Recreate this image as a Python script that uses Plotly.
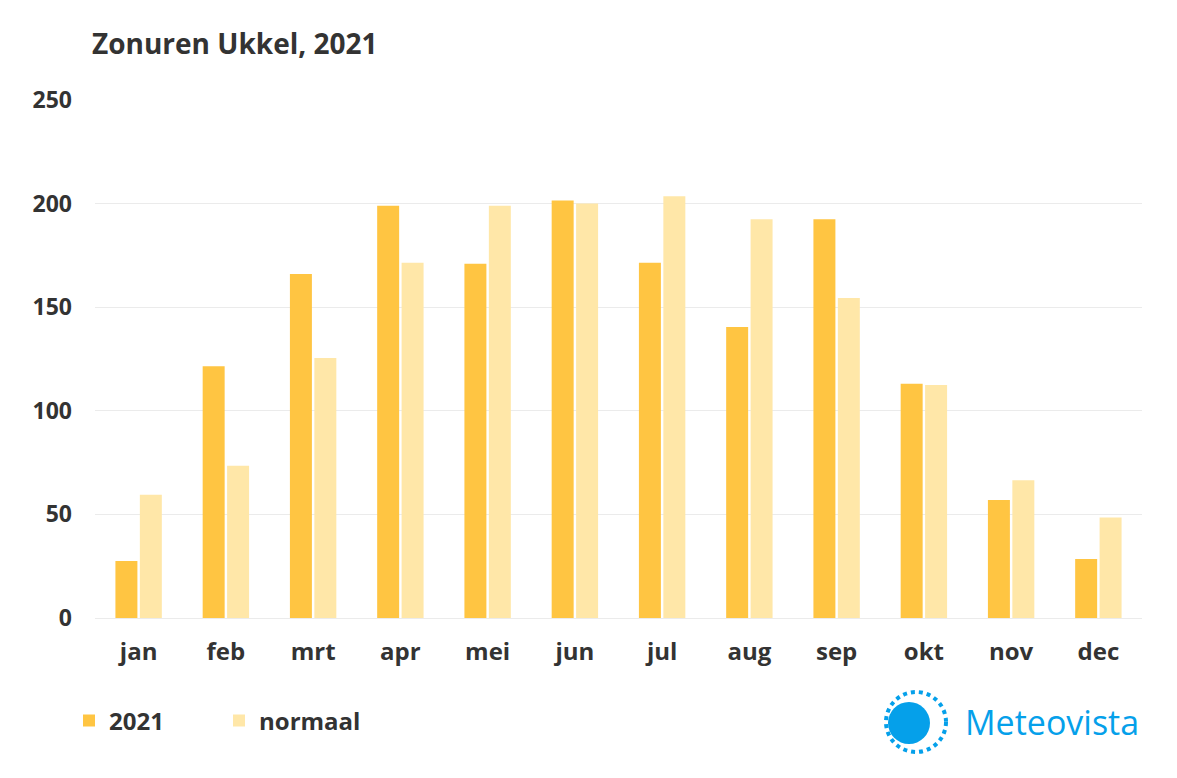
import plotly.graph_objects as go

months = ["jan", "feb", "mrt", "apr", "mei", "jun", "jul", "aug", "sep", "okt", "nov", "dec"]
zon_2021 = [27.5, 121.5, 166, 199, 171, 201.5, 171.5, 140.5, 192.5, 113, 57, 28.5]
normaal = [59.5, 73.5, 125.5, 171.5, 199, 200, 203.5, 192.5, 154.5, 112.5, 66.5, 48.5]
y_ticks = [0, 50, 100, 150, 200, 250]

C2021 = "#FFC542"
CNORM = "#FFE7A8"
TXT = "#333333"
BLUE = "#05A0EA"
FONT = "Open Sans"

# page has an 8px body margin; figure sized to fit the 1177x778 window
W, H = 1169, 770
L, T = 87, 92
PW, PH = 1047, 518

def px(xp):  # page x -> paper x
    return (xp - 95) / PW

def py(yp):  # page y -> paper y
    return (618 - yp) / PH

fig = go.Figure()
fig.add_trace(go.Bar(x=months, y=zon_2021, name="2021", marker=dict(color=C2021, line=dict(width=0))))
fig.add_trace(go.Bar(x=months, y=normaal, name="normaal", marker=dict(color=CNORM, line=dict(width=0))))

fig.update_layout(
    width=W, height=H,
    paper_bgcolor="white", plot_bgcolor="white",
    margin=dict(l=L, r=W - L - PW, t=T, b=H - T - PH),
    barmode="group", bargap=0.44, bargroupgap=0.1,
    font=dict(family=FONT, color=TXT, size=24),
    title=dict(text="<b>Zonuren Ukkel, 2021</b>", x=84 / W, xanchor="left",
               y=1 - 36 / H, yanchor="middle", yref="container", xref="container",
               font=dict(family=FONT, size=28, color=TXT)),
    showlegend=True,
    legend=dict(orientation="h", x=-26 / PW, xanchor="left", y=py(721), yanchor="middle",
                font=dict(family=FONT, size=24, color=TXT, weight="bold"),
                entrywidth=105, itemwidth=30, traceorder="normal"),
)
fig.update_yaxes(range=[0, 250], tickvals=y_ticks, showgrid=True, gridcolor="#EBEBEB", gridwidth=1,
                 zeroline=True, zerolinecolor="#EBEBEB", zerolinewidth=1,
                 tickfont=dict(family=FONT, size=23, color=TXT, weight="bold"),
                 ticklabelstandoff=22, showline=False, fixedrange=True)
fig.update_xaxes(tickfont=dict(family=FONT, size=24, color=TXT, weight="bold"),
                 ticklabelstandoff=17, showline=False, showgrid=False)

# Meteovista logo
fig.add_shape(type="circle", xref="paper", yref="paper", xsizemode="pixel", ysizemode="pixel",
              xanchor=px(916), yanchor=py(722), x0=-30, x1=30, y0=-30, y1=30,
              fillcolor="rgba(0,0,0,0)", line=dict(width=4, color=BLUE, dash="dot"))
fig.add_shape(type="circle", xref="paper", yref="paper", xsizemode="pixel", ysizemode="pixel",
              xanchor=px(909), yanchor=py(723), x0=-21, x1=21, y0=-21, y1=21,
              fillcolor=BLUE, line=dict(width=0))
fig.add_annotation(text="Meteovista", xref="paper", yref="paper", x=px(963), y=py(722),
                   xanchor="left", yanchor="middle", showarrow=False,
                   font=dict(family=FONT, size=34, color=BLUE, weight=500))

fig.write_html("out.html")
